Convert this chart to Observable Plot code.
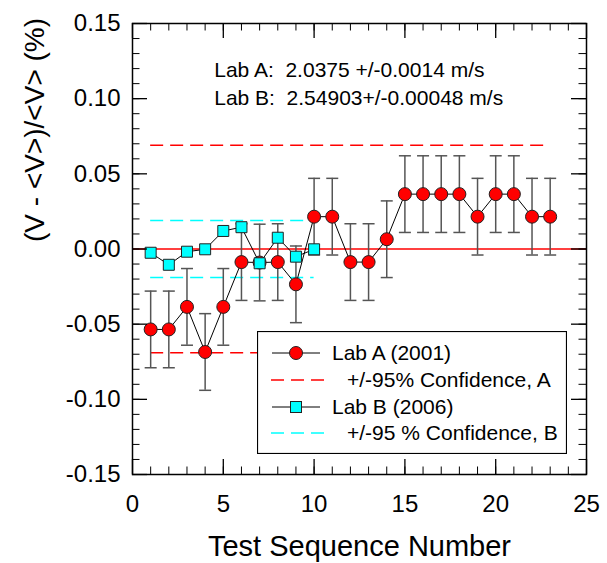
<!DOCTYPE html>
<html>
<head>
<meta charset="utf-8">
<script src="https://cdn.jsdelivr.net/npm/d3@7"></script>
<script src="https://cdn.jsdelivr.net/npm/@observablehq/plot@0.6"></script>
<style>
  body { margin: 0; background: #fff; }
  #wrap { position: relative; width: 607px; height: 563px; font-family: "Liberation Sans", Arial, sans-serif; }
  #wrap svg { white-space: pre; }
  #legend { position: absolute; left: 257px; top: 331px; }
</style>
</head>
<body>
<div id="wrap"></div>
<script>
// ---- Data ----
const seqA = [1,2,3,4,5,6,7,8,9,10,11,12,13,14,15,16,17,18,19,20,21,22,23];
const devA = [-0.0535,-0.0535,-0.0385,-0.0685,-0.0385,-0.0087,-0.0090,-0.0087,-0.0235,0.0215,
              0.0215,-0.0087,-0.0087,0.0065,0.0365,0.0365,0.0365,0.0365,0.0215,0.0365,
              0.0365,0.0215,0.0215];
const errA = 0.0255;
const seqB = [1,2,3,4,5,6,7,8,9,10];
const devB = [-0.0025,-0.0105,-0.0018,-0.0002,0.0120,0.0145,-0.0095,0.0075,-0.0051,-0.0002];
const confA = [0.069, -0.069];
const confASpan = [1, 23];
const confB = [0.019, -0.019];
const confBSpan = [1, 10];
const xTicksMajor = [0, 5, 10, 15, 20, 25];
const yTicksMajor = [-0.15, -0.10, -0.05, 0.00, 0.05, 0.10, 0.15];
const annotText = ["Lab A:  2.0375 +/-0.0014 m/s", "Lab B:  2.54903+/-0.00048 m/s"];
const annotY = [0.1187, 0.1000];
const annotX = 4.5;
const xTitle = "Test Sequence Number";
const yTitle = "(V - <V>)/<V> (%)";
const legendLabels = ["Lab A (2001)", "+/-95% Confidence, A", "Lab B (2006)", "+/-95 % Confidence, B"];

// ---- Build tables ----
const A = seqA.map((x, i) => ({x, y: devA[i]}));
const B = seqB.map((x, i) => ({x, y: devB[i]}));
const confARows = confA.map(y => ({y, x1: confASpan[0], x2: confASpan[1]}));
const confBRows = confB.map(y => ({y, x1: confBSpan[0], x2: confBSpan[1]}));
const xTicksMinor = d3.ticks(0, 25, 25);
const yTicksMinor = d3.ticks(-0.15, 0.15, 30);
const annot = annotText.map((t, i) => ({t, y: annotY[i]}));

const W = 607, H = 563, ML = 132, MR = 21, MT = 23, MB = 89;
const pw = W - ML - MR, ph = H - MT - MB;
const font = "Liberation Sans, Arial, sans-serif";
const capSymbol = { draw(ctx) { ctx.moveTo(-6, 0); ctx.lineTo(6, 0); } };

const RED = "#ff0000", CYAN = "#00ffff";

const chart = Plot.plot({
  width: W, height: H,
  marginLeft: ML, marginRight: MR, marginTop: MT, marginBottom: MB,
  style: { fontFamily: font, background: "#fff", color: "#000" },
  x: { domain: [0, 25], label: null },
  y: { domain: [-0.15, 0.15], label: null },
  marks: [
    Plot.ruleY(confARows, { y: "y", x1: "x1", x2: "x2", stroke: RED, strokeWidth: 1.5, strokeDasharray: "13,7" }),
    Plot.ruleY(confBRows, { y: "y", x1: "x1", x2: "x2", stroke: CYAN, strokeWidth: 1.5, strokeDasharray: "13,7" }),
    Plot.ruleY([0], { stroke: RED, strokeWidth: 1.5 }),
    Plot.ruleX(A, { x: "x", y1: d => d.y - errA, y2: d => d.y + errA, stroke: "#555", strokeWidth: 1.5 }),
    Plot.dot(A, { x: "x", y: d => d.y - errA, symbol: capSymbol, stroke: "#555", strokeWidth: 1.5, fill: "none" }),
    Plot.dot(A, { x: "x", y: d => d.y + errA, symbol: capSymbol, stroke: "#555", strokeWidth: 1.5, fill: "none" }),
    Plot.line(A, { x: "x", y: "y", stroke: "#000", strokeWidth: 1 }),
    Plot.dot(A, { x: "x", y: "y", r: 6.5, fill: RED, stroke: "#222", strokeWidth: 1 }),
    Plot.line(B, { x: "x", y: "y", stroke: "#000", strokeWidth: 1 }),
    Plot.dot(B, { x: "x", y: "y", r: 6.2, symbol: "square", fill: CYAN, stroke: "#222", strokeWidth: 1 }),
    Plot.frame({ stroke: "#000", strokeWidth: 1.5 }),
    // inward ticks on all four sides
    Plot.tickY(yTicksMajor, { y: d => d, insetRight: pw - 15, stroke: "#000", strokeWidth: 1.3 }),
    Plot.tickY(yTicksMajor, { y: d => d, insetLeft: pw - 15, stroke: "#000", strokeWidth: 1.3 }),
    Plot.tickY(yTicksMinor, { y: d => d, insetRight: pw - 7.5, stroke: "#000", strokeWidth: 1 }),
    Plot.tickY(yTicksMinor, { y: d => d, insetLeft: pw - 7.5, stroke: "#000", strokeWidth: 1 }),
    Plot.tickX(xTicksMajor, { x: d => d, insetTop: ph - 15, stroke: "#000", strokeWidth: 1.3 }),
    Plot.tickX(xTicksMajor, { x: d => d, insetBottom: ph - 15, stroke: "#000", strokeWidth: 1.3 }),
    Plot.tickX(xTicksMinor, { x: d => d, insetTop: ph - 7.5, stroke: "#000", strokeWidth: 1 }),
    Plot.tickX(xTicksMinor, { x: d => d, insetBottom: ph - 7.5, stroke: "#000", strokeWidth: 1 }),
    Plot.axisY({ ticks: yTicksMajor, tickSize: 0, tickPadding: 12, fontSize: 24, tickFormat: d => d.toFixed(2), label: null }),
    Plot.axisX({ ticks: xTicksMajor, tickSize: 0, tickPadding: 20, fontSize: 24, tickFormat: d => String(d), label: null }),
    Plot.text(annot, { x: annotX, y: "y", text: "t", textAnchor: "start", fontSize: 21, fill: "#000" }),
    Plot.text([xTitle], { frameAnchor: "bottom", dy: 81, fontSize: 29, fill: "#000" }),
    Plot.text([yTitle], { frameAnchor: "left", dx: -97, dy: -7, rotate: -90, fontSize: 28, fill: "#000" })
  ]
});
document.getElementById("wrap").appendChild(chart);

// ---- Legend (overlay box inside the plot area) ----
const lg = d3.select("#wrap").append("svg").attr("id", "legend")
  .attr("width", 310).attr("height", 123)
  .style("font-family", font);
lg.append("rect").attr("x", 0.5).attr("y", 0.5).attr("width", 309).attr("height", 122)
  .attr("fill", "#fff").attr("stroke", "#000").attr("stroke-width", 1.2);
const rowY = [22, 49, 76, 102];
const kinds = [
  { type: "lineDot", color: RED, sym: "circle", indent: 0 },
  { type: "dash", color: RED, indent: 15 },
  { type: "lineDot", color: CYAN, sym: "square", indent: 0 },
  { type: "dash", color: CYAN, indent: 15 }
];
legendLabels.forEach((lab, i) => {
  const k = kinds[i], y = rowY[i];
  if (k.type === "lineDot") {
    lg.append("line").attr("x1", 15).attr("x2", 63).attr("y1", y).attr("y2", y)
      .attr("stroke", "#000").attr("stroke-width", 1);
    if (k.sym === "circle") {
      lg.append("circle").attr("cx", 39).attr("cy", y).attr("r", 6.5)
        .attr("fill", k.color).attr("stroke", "#222");
    } else {
      lg.append("rect").attr("x", 39 - 5.5).attr("y", y - 5.5).attr("width", 11).attr("height", 11)
        .attr("fill", k.color).attr("stroke", "#222");
    }
  } else {
    lg.append("line").attr("x1", 14).attr("x2", 67).attr("y1", y).attr("y2", y)
      .attr("stroke", k.color).attr("stroke-width", 1.5).attr("stroke-dasharray", "13,7");
  }
  lg.append("text").attr("x", 75 + k.indent).attr("y", y).attr("dy", "0.35em")
    .attr("font-size", 21).attr("fill", "#000").text(lab);
});
</script>
</body>
</html>
